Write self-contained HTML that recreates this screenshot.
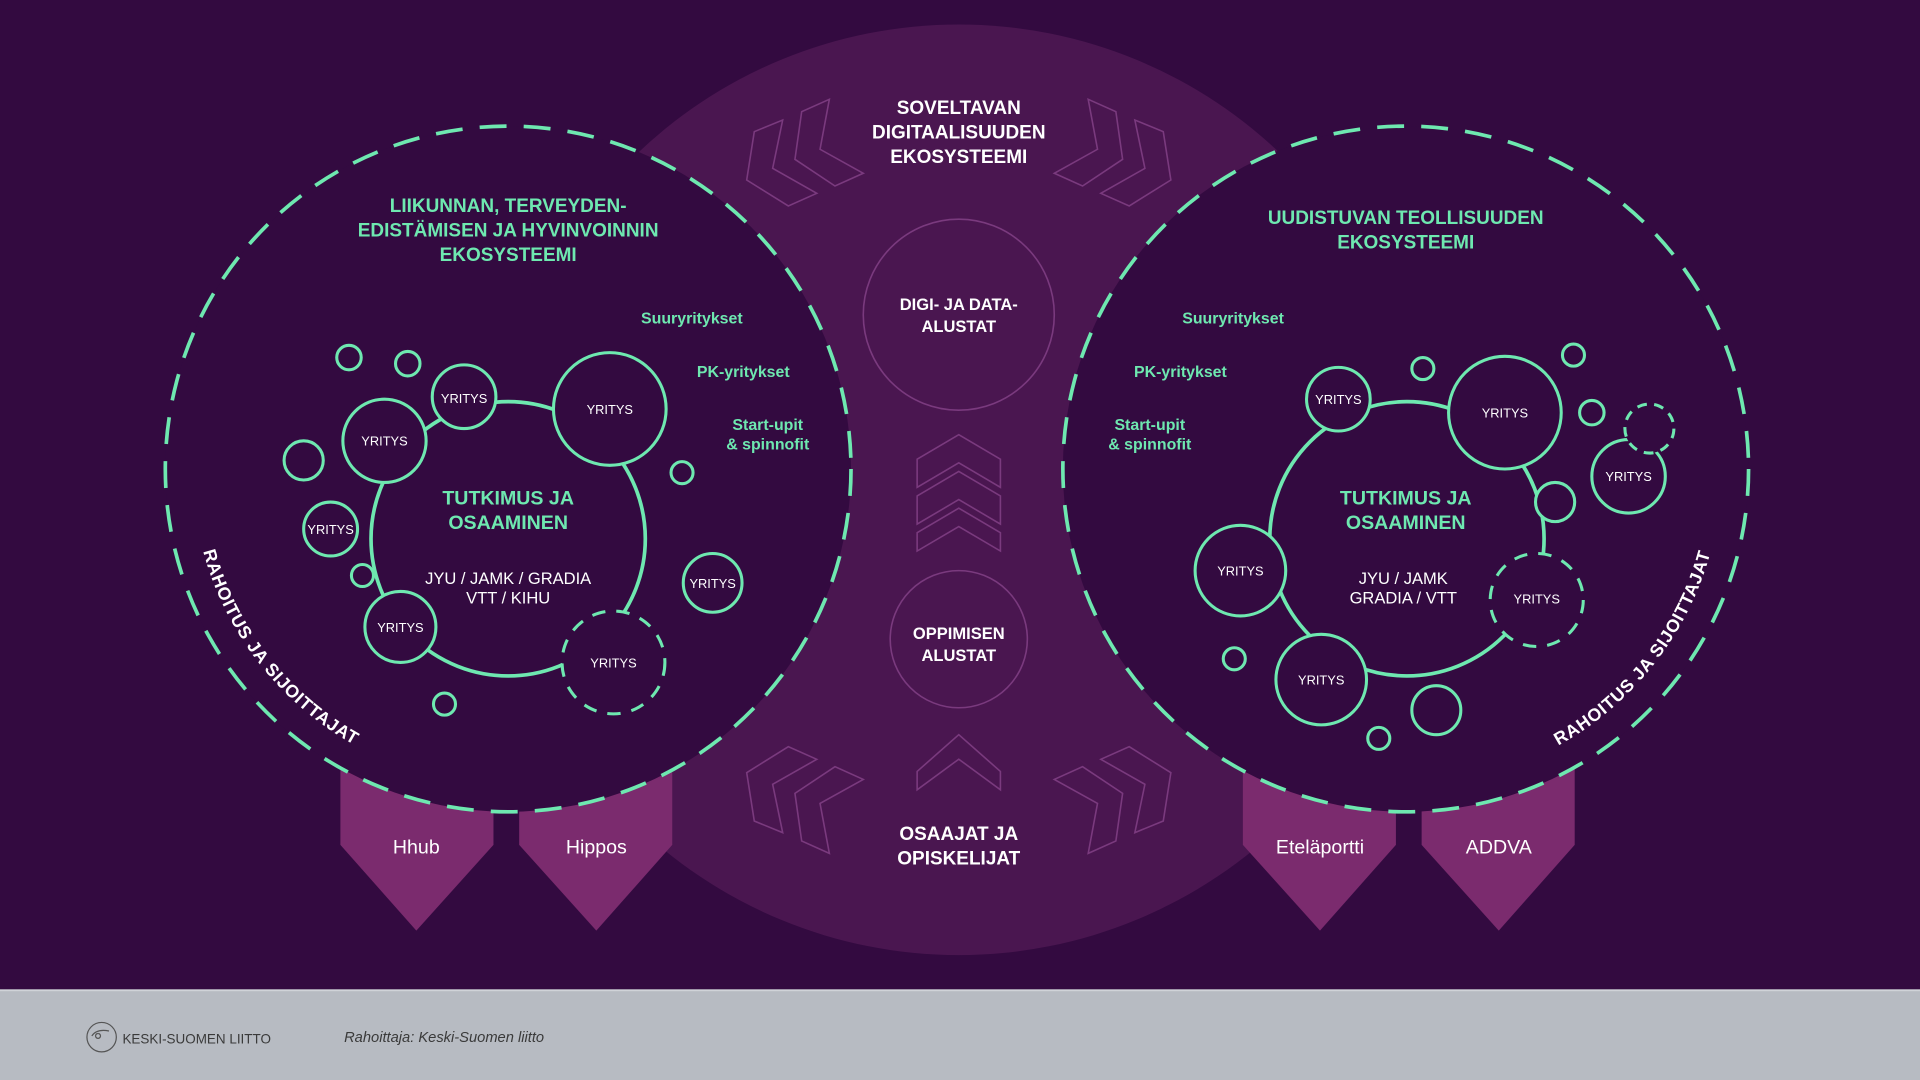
<!DOCTYPE html>
<html><head><meta charset="utf-8"><style>
html,body{margin:0;padding:0;background:#330a40;}
svg{display:block;}
text{font-family:"Liberation Sans",sans-serif;}
</style></head><body>
<svg width="1920" height="1080" viewBox="0 0 1568 882" xmlns="http://www.w3.org/2000/svg">
<defs>
<path id="arcL" d="M157,383 A258,258 0 0 0 415,641"/>
<path id="arcR" d="M1148,641 A258,258 0 0 0 1406,383"/>
<g id="chev">
<polygon points="677.3,81.1 669.7,121.9 705,141.5 681.9,151.9 649.2,130.1 654.7,91.2"/>
<polygon points="639.2,98 631,137.5 667,157.9 643.8,168.2 609.8,147 616,107.5"/>
</g>
</defs>
<rect x="0" y="0" width="1568" height="808" fill="#330a40"/>
<circle cx="783" cy="400" r="380" fill="#4a1650"/>
<g fill="#7b2b6e">
<polygon points="278,610 403,610 403,690 340,760 278,690"/>
<polygon points="424,610 549,610 549,690 487,760 424,690"/>
<polygon points="1015,610 1140,610 1140,690 1078,760 1015,690"/>
<polygon points="1161,610 1286,610 1286,690 1224,760 1161,690"/>
</g>
<circle cx="415" cy="383" r="280" fill="#330a40" stroke="#6ee8b0" stroke-width="3" stroke-dasharray="22 14"/>
<circle cx="1148" cy="383" r="280" fill="#330a40" stroke="#6ee8b0" stroke-width="3" stroke-dasharray="22 14"/>
<g fill="none" stroke="#7a3a7e" stroke-width="1.3">
<use href="#chev"/>
<use href="#chev" transform="matrix(-1,0,0,1,1566,0)"/>
<use href="#chev" transform="matrix(1,0,0,-1,0,778)"/>
<use href="#chev" transform="matrix(-1,0,0,-1,1566,778)"/>
<polygon points="749,375 783,355 817,375 817,398 783,378 749,398"/>
<polygon points="749,405 783,385 817,405 817,428 783,408 749,428"/>
<polygon points="749,435 783,415 817,435 817,450 783,430 749,450"/>
<polygon points="749,630 783,600 817,630 817,645 783,620 749,645"/>
<circle cx="783" cy="257" r="78"/>
<circle cx="783" cy="522" r="56"/>
</g>
<g fill="#ffffff" font-weight="bold" font-size="15.5" text-anchor="middle">
<text x="783" y="93">SOVELTAVAN</text>
<text x="783" y="113">DIGITAALISUUDEN</text>
<text x="783" y="133">EKOSYSTEEMI</text>
<text x="783" y="253" font-size="13.5">DIGI- JA DATA-</text>
<text x="783" y="271" font-size="13.5">ALUSTAT</text>
<text x="783" y="522" font-size="13.5">OPPIMISEN</text>
<text x="783" y="540" font-size="13.5">ALUSTAT</text>
<text x="783" y="686">OSAAJAT JA</text>
<text x="783" y="706">OPISKELIJAT</text>
</g>
<g fill="#ffffff" font-size="16" text-anchor="middle">
<text x="340" y="697">Hhub</text>
<text x="487" y="697">Hippos</text>
<text x="1078" y="697">Eteläportti</text>
<text x="1224" y="697">ADDVA</text>
</g>
<g fill="#6ee8b0" font-weight="bold" font-size="15.5" text-anchor="middle">
<text x="415" y="173">LIIKUNNAN, TERVEYDEN-</text>
<text x="415" y="193">EDISTÄMISEN JA HYVINVOINNIN</text>
<text x="415" y="213">EKOSYSTEEMI</text>
<text x="1148" y="183">UUDISTUVAN TEOLLISUUDEN</text>
<text x="1148" y="203">EKOSYSTEEMI</text>
<text x="415" y="412" font-size="16">TUTKIMUS JA</text>
<text x="415" y="432" font-size="16">OSAAMINEN</text>
<text x="1148" y="412" font-size="16">TUTKIMUS JA</text>
<text x="1148" y="432" font-size="16">OSAAMINEN</text>
</g>
<g fill="#6ee8b0" font-weight="bold" font-size="13">
<text x="565" y="264" text-anchor="middle">Suuryritykset</text>
<text x="607" y="308" text-anchor="middle">PK-yritykset</text>
<text x="627" y="351" text-anchor="middle">Start-upit</text>
<text x="627" y="367" text-anchor="middle">&amp; spinnofit</text>
<text x="1007" y="264" text-anchor="middle">Suuryritykset</text>
<text x="964" y="308" text-anchor="middle">PK-yritykset</text>
<text x="939" y="351" text-anchor="middle">Start-upit</text>
<text x="939" y="367" text-anchor="middle">&amp; spinnofit</text>
</g>
<g fill="#ffffff" font-size="13.5" text-anchor="middle">
<text x="415" y="477">JYU / JAMK / GRADIA</text>
<text x="415" y="493">VTT / KIHU</text>
<text x="1146" y="477">JYU / JAMK</text>
<text x="1146" y="493">GRADIA / VTT</text>
</g>
<g fill="none" stroke="#6ee8b0" stroke-width="3">
<circle cx="415" cy="440" r="112"/>
<circle cx="1149" cy="440" r="112"/>
</g>
<g fill="#330a40" stroke="#6ee8b0" stroke-width="2.5">
<circle cx="314" cy="360" r="34"/>
<circle cx="379" cy="324" r="26"/>
<circle cx="498" cy="334" r="46"/>
<circle cx="270" cy="432" r="22"/>
<circle cx="327" cy="512" r="29"/>
<circle cx="501" cy="541" r="42" stroke-dasharray="11 9"/>
<circle cx="285" cy="292" r="10"/>
<circle cx="333" cy="297" r="10"/>
<circle cx="248" cy="376" r="16"/>
<circle cx="296" cy="470" r="9"/>
<circle cx="557" cy="386" r="9"/>
<circle cx="582" cy="476" r="24"/>
<circle cx="363" cy="575" r="9"/>
<circle cx="1093" cy="326" r="26"/>
<circle cx="1229" cy="337" r="46"/>
<circle cx="1013" cy="466" r="37"/>
<circle cx="1079" cy="555" r="37"/>
<circle cx="1255" cy="490" r="38" stroke-dasharray="11 9"/>
<circle cx="1330" cy="389" r="30"/>
<circle cx="1347" cy="350" r="20" stroke-dasharray="8 6"/>
<circle cx="1162" cy="301" r="9"/>
<circle cx="1285" cy="290" r="9"/>
<circle cx="1300" cy="337" r="10"/>
<circle cx="1270" cy="410" r="16"/>
<circle cx="1008" cy="538" r="9"/>
<circle cx="1173" cy="580" r="20"/>
<circle cx="1126" cy="603" r="9"/>
</g>
<g fill="#ffffff" font-size="10.5" text-anchor="middle">
<text x="314" y="364">YRITYS</text>
<text x="379" y="329">YRITYS</text>
<text x="498" y="338">YRITYS</text>
<text x="270" y="436">YRITYS</text>
<text x="327" y="516">YRITYS</text>
<text x="501" y="545">YRITYS</text>
<text x="582" y="480">YRITYS</text>
<text x="1093" y="330">YRITYS</text>
<text x="1229" y="341">YRITYS</text>
<text x="1013" y="470">YRITYS</text>
<text x="1079" y="559">YRITYS</text>
<text x="1255" y="493">YRITYS</text>
<text x="1330" y="393">YRITYS</text>
</g>
<g fill="#ffffff" font-weight="bold" font-size="14.5" letter-spacing="0.6">
<text><textPath href="#arcL" startOffset="68">RAHOITUS JA SIJOITTAJAT</textPath></text>
<text><textPath href="#arcR" startOffset="130">RAHOITUS JA SIJOITTAJAT</textPath></text>
</g>
<rect x="0" y="808" width="1568" height="74" fill="#b7bbc2"/>
<rect x="0" y="808" width="1568" height="1.5" fill="#d0d3d8"/>
<circle cx="83" cy="847" r="12" fill="none" stroke="#555" stroke-width="1"/>
<path d="M75,846 q4,-6 14,-4 M80,844 a2,2 0 1 0 0.1,0" fill="none" stroke="#555" stroke-width="1"/>
<text x="100" y="852" font-size="11" fill="#3a3a3a">KESKI-SUOMEN LIITTO</text>
<text x="281" y="851" font-size="12" font-style="italic" fill="#3a3a3a">Rahoittaja: Keski-Suomen liitto</text>
</svg>
</body></html>
